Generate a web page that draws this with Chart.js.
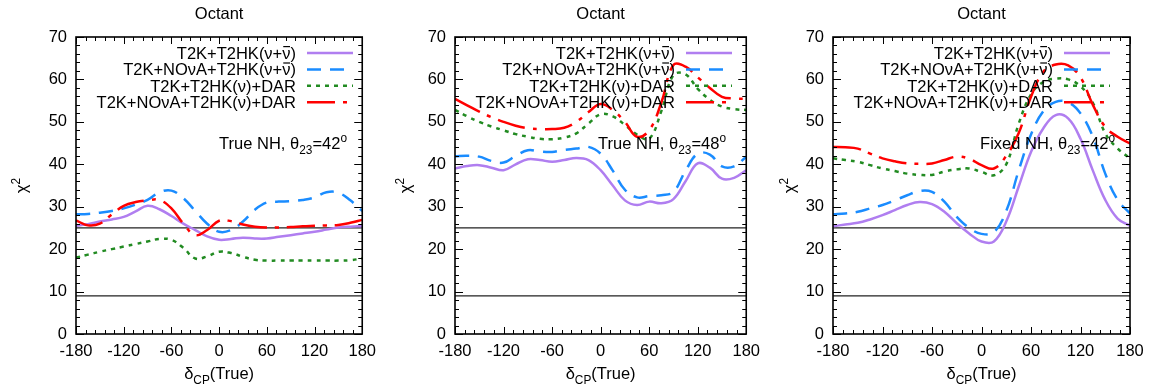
<!DOCTYPE html>
<html>
<head>
<meta charset="utf-8">
<script src="https://cdn.jsdelivr.net/npm/chart.js@4/dist/chart.umd.min.js"></script>
<style>
body { margin: 0; background: #fff; width: 1152px; height: 392px; overflow: hidden; position: relative; }
.box { position: absolute; top: 0; width: 384px; height: 392px; }
</style>
</head>
<body>
<div class="box" style="left:0px"><canvas id="c1"></canvas></div>
<div class="box" style="left:384px"><canvas id="c2"></canvas></div>
<div class="box" style="left:768px"><canvas id="c3"></canvas></div>
<script>
// delta_CP (true), degrees
var deltas = [-180,-165,-150,-135,-120,-105,-90,-75,-60,-45,-30,-15,0,15,30,45,60,75,90,105,120,135,150,165,180];

// '~' marks an anti-neutrino (nu with a bar on top)
var seriesNames = ['T2K+T2HK(\u03bd+~)', 'T2K+NO\u03bdA+T2HK(\u03bd+~)',
                   'T2K+T2HK(\u03bd)+DAR', 'T2K+NO\u03bdA+T2HK(\u03bd)+DAR'];

// panel 1: True NH, theta23 = 42
var p1_t2k_t2hk     = [25.5,25.9,26.5,27,27.6,28.9,30.2,29.4,27.8,26,24.5,23,22.2,22.4,22.7,22.5,22.5,22.9,23.3,23.7,24.1,24.6,25.1,25.3,25.4];
var p1_nova_t2hk    = [28.2,28.3,28.6,29,29.6,30.5,31.6,33.4,33.8,32,29,26,24.1,24.5,26.5,29.3,31,31.2,31.3,31.6,32.2,33.4,33.3,31.5,29];
var p1_t2hk_dar     = [18,18.7,19.4,20,20.6,21.2,21.8,22.4,22.2,20.3,17.8,18.3,19.4,19.1,18.2,17.5,17.3,17.3,17.3,17.3,17.3,17.3,17.3,17.4,17.8];
var p1_nova_dar     = [26.8,25.6,26,28.2,30.2,31.1,31.5,31.6,29.6,26,23.3,24.5,26.7,26.6,25.8,25.3,25.1,25.1,25.2,25.4,25.5,25.6,25.7,26.2,26.9];

// panel 2: True NH, theta23 = 48
var p2_t2k_t2hk     = [39,39.6,39.8,39.2,38.6,40,41.2,41,40.6,41,41.5,41,38.6,35,31.5,30.4,31.2,30.8,31.8,36,40.2,39.2,36.6,36.8,38.6];
var p2_nova_t2hk    = [41.9,42,41.8,40.8,40.4,42,43.3,43,42.9,43.4,43.7,44.1,42.5,38.5,34,32.2,32.5,32.7,33.5,38.5,42.5,42.3,39.5,39.5,41.8];
var p2_t2hk_dar     = [52.8,51.3,50,48.9,48,47.1,46.5,46,45.9,46.3,47.3,49.6,51.8,51.3,49.3,47,46,52.5,61,61.2,57.8,55.2,53.6,53,52.8];
var p2_nova_dar     = [55.4,53.9,52.4,51.1,50,49.1,48.5,48.3,48.3,48.6,50,52.3,54.2,52.8,50,46.5,48,54.5,63.4,63,60.5,58,55.9,55.5,55.4];

// panel 3: Fixed NH, theta23 = 42
var p3_t2k_t2hk     = [25.4,25.8,26.2,27,28,29.2,30.4,31.1,30.6,28.8,26.1,23.7,21.8,21.8,26.5,34.7,42.9,48.5,51.6,50.8,46,38.5,31.6,27.2,25.5];
var p3_nova_t2hk    = [28.2,28.4,28.8,29.6,30.4,31.5,32.7,33.7,33.5,31.2,27.6,25,23.6,24,29,38.5,47,52.5,54.7,54.6,52,46.5,37.8,31.6,28.4];
var p3_t2hk_dar     = [41.4,41,40.6,39.8,39,38.4,37.8,37.5,37.5,38.3,38.8,39,38.2,37.4,40,49.5,56.5,59.4,60.2,60,58.4,54.5,47.3,43.7,41.4];
var p3_nova_dar     = [44.1,44,43.7,42.5,41.4,40.7,40.2,40.1,40.2,41,41.8,41.3,39.8,39,42,47.3,55.9,61.8,63.5,63.3,60.5,54,48.8,46.5,44.9];

// reference chi2 levels (3 sigma, 5 sigma)
var refLevels = [9, 25];

var yTicks = [0,10,20,30,40,50,60,70];
var xTicks = [-180,-120,-60,0,60,120,180];

var colors = ['#b07ef0', '#1a8cff', '#228b22', '#ff0000'];
var dashes = [[], [14, 9], [4, 5], [28, 8, 4, 8]];
var FONT = "'Liberation Sans', Arial, sans-serif";
var FS = 16.5;

function pts(arr) {
  return arr.map(function (v, i) { return { x: deltas[i], y: v }; });
}

// text with sub/superscripts: parts = [[text, 0|-1|1], ...]
function richWidth(ctx, parts, size) {
  var w = 0;
  parts.forEach(function (p) {
    ctx.font = (p[1] ? size * 0.72 : size) + 'px ' + FONT;
    w += ctx.measureText(p[0]).width;
  });
  return w;
}
function drawRich(ctx, parts, x, y, size, align) {
  var w = richWidth(ctx, parts, size);
  var cx = align === 'right' ? x - w : align === 'center' ? x - w / 2 : x;
  ctx.textAlign = 'left';
  ctx.textBaseline = 'alphabetic';
  parts.forEach(function (p) {
    var s = p[1] ? size * 0.72 : size;
    ctx.font = s + 'px ' + FONT;
    var dy = p[1] === -1 ? size * 0.3 : p[1] === 1 ? -size * 0.45 : 0;
    ctx.fillText(p[0], cx, y + dy);
    cx += ctx.measureText(p[0]).width;
  });
}

// key label, right aligned; '~' is drawn as a nu with a bar
function drawKeyLabel(ctx, label, right, y) {
  ctx.font = FS + 'px ' + FONT;
  ctx.textAlign = 'left';
  ctx.textBaseline = 'alphabetic';
  var txt = label.replace('~', '\u03bd');
  var x = right - ctx.measureText(txt).width;
  ctx.fillText(txt, x, y);
  var k = label.indexOf('~');
  if (k >= 0) {
    var bx = x + ctx.measureText(txt.slice(0, k)).width;
    var bw = ctx.measureText('\u03bd').width;
    ctx.fillRect(bx + 1, y - 13, bw - 1.5, 1.2);
  }
}

var gnuplotFrame = {
  id: 'gnuplotFrame',
  afterDatasetsDraw: function (chart, args, opts) {
    var ctx = chart.ctx, a = chart.chartArea;
    var xs = chart.scales.x, ys = chart.scales.y;
    ctx.save();
    ctx.strokeStyle = '#000';
    ctx.lineWidth = 1;
    // ticks on all four sides, pointing inward
    for (var v = -180; v <= 180; v += 12) {
      var px = Math.round(xs.getPixelForValue(v)) + 0.5;
      var len = (v % 60 === 0) ? 7 : 4;
      ctx.beginPath();
      ctx.moveTo(px, a.bottom); ctx.lineTo(px, a.bottom - len);
      ctx.moveTo(px, a.top); ctx.lineTo(px, a.top + len);
      ctx.stroke();
    }
    for (var w = 0; w <= 70; w += 2) {
      var py = Math.round(ys.getPixelForValue(w)) + 0.5;
      var l2 = (w % 10 === 0) ? 8 : 4;
      ctx.beginPath();
      ctx.moveTo(a.left, py); ctx.lineTo(a.left + l2, py);
      ctx.moveTo(a.right, py); ctx.lineTo(a.right - l2, py);
      ctx.stroke();
    }
    ctx.lineWidth = 1.6;
    ctx.strokeRect(a.left, a.top, a.right - a.left, a.bottom - a.top);

    ctx.fillStyle = '#000';
    // title
    ctx.font = FS + 'px ' + FONT;
    ctx.textAlign = 'center';
    ctx.textBaseline = 'alphabetic';
    ctx.fillText('Octant', (a.left + a.right) / 2, 19);
    // x axis title
    drawRich(ctx, [['\u03b4', 0], ['CP', -1], ['(True)', 0]], (a.left + a.right) / 2, 379, FS, 'center');
    // y axis title
    ctx.save();
    ctx.translate(27, (a.top + a.bottom) / 2);
    ctx.rotate(-Math.PI / 2);
    drawRich(ctx, [['\u03c7', 0], ['2', 1]], 0, 0, FS, 'center');
    ctx.restore();

    // annotation
    drawRich(ctx, opts.note, a.left + opts.noteX, 149, FS, 'right');

    // key
    var keyTextRight = a.left + 220, y0 = 53;
    for (var i = 0; i < seriesNames.length; i++) {
      var yy = y0 + i * 16.4;
      ctx.fillStyle = '#000';
      drawKeyLabel(ctx, seriesNames[i], keyTextRight, yy + 6);
      ctx.beginPath();
      ctx.strokeStyle = colors[i];
      ctx.lineWidth = 2.5;
      ctx.setLineDash(dashes[i]);
      ctx.moveTo(keyTextRight + 11, yy);
      ctx.lineTo(keyTextRight + 57, yy);
      ctx.stroke();
      ctx.setLineDash([]);
    }
    ctx.restore();
  }
};

function makePanel(id, series, axisWidth, rightPad, note, noteX) {
  var datasets = series.map(function (s, i) {
    return {
      label: seriesNames[i],
      data: pts(s),
      borderColor: colors[i],
      borderWidth: 2.5,
      borderDash: dashes[i],
      pointRadius: 0,
      tension: 0.4,
      fill: false,
      order: 4 - i
    };
  });
  refLevels.forEach(function (lv) {
    datasets.push({
      label: 'ref' + lv,
      data: [{ x: -180, y: lv }, { x: 180, y: lv }],
      borderColor: '#222',
      borderWidth: 1.2,
      pointRadius: 0,
      order: 10
    });
  });
  return new Chart(document.getElementById(id).getContext('2d'), {
    type: 'line',
    data: { datasets: datasets },
    options: {
      responsive: true,
      maintainAspectRatio: false,
      animation: false,
      layout: { padding: { top: 37, right: rightPad, left: 0, bottom: 0 } },
      plugins: {
        legend: { display: false },
        tooltip: { enabled: false },
        gnuplotFrame: { note: note, noteX: noteX }
      },
      scales: {
        x: {
          type: 'linear', min: -180, max: 180,
          afterBuildTicks: function (sc) { sc.ticks = xTicks.map(function (v) { return { value: v }; }); },
          afterFit: function (sc) { sc.height = 58; },
          grid: { display: false, drawTicks: false },
          border: { display: false },
          ticks: { autoSkip: false, maxRotation: 0, padding: 8, color: '#000', font: { family: FONT, size: FS } }
        },
        y: {
          min: 0, max: 70,
          afterBuildTicks: function (sc) { sc.ticks = yTicks.map(function (v) { return { value: v }; }); },
          afterFit: function (sc) { sc.width = axisWidth; },
          grid: { display: false, drawTicks: false },
          border: { display: false },
          ticks: { autoSkip: false, padding: 9, color: '#000', font: { family: FONT, size: FS } }
        }
      }
    },
    plugins: [gnuplotFrame]
  });
}

makePanel('c1', [p1_t2k_t2hk, p1_nova_t2hk, p1_t2hk_dar, p1_nova_dar], 76, 11,
  [['True NH, \u03b8', 0], ['23', -1], ['=42', 0], ['o', 1]], 271);
makePanel('c2', [p2_t2k_t2hk, p2_nova_t2hk, p2_t2hk_dar, p2_nova_dar], 71, 16,
  [['True NH, \u03b8', 0], ['23', -1], ['=48', 0], ['o', 1]], 271);
makePanel('c3', [p3_t2k_t2hk, p3_nova_t2hk, p3_t2hk_dar, p3_nova_dar], 65, 22,
  [['Fixed NH, \u03b8', 0], ['23', -1], ['=42', 0], ['o', 1]], 282);
</script>
</body>
</html>
